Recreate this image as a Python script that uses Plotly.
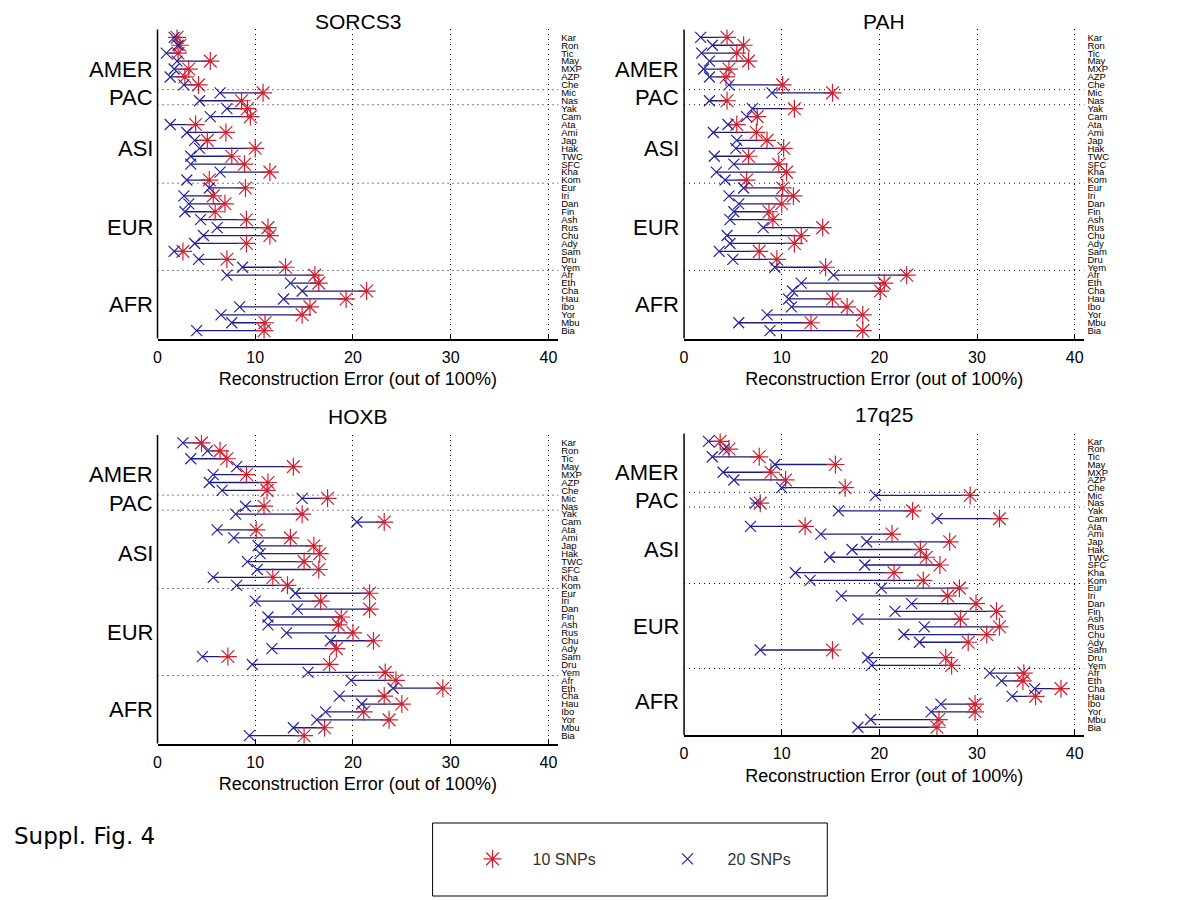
import plotly.graph_objects as go

POPS = ["Kar", "Ron", "Tic", "May", "MXP", "AZP", "Che", "Mic", "Nas", "Yak",
        "Cam", "Ata", "Ami", "Jap", "Hak", "TWC", "SFC", "Kha", "Kom", "Eur",
        "Iri", "Dan", "Fin", "Ash", "Rus", "Chu", "Ady", "Sam", "Dru", "Yem",
        "Afr", "Eth", "Cha", "Hau", "Ibo", "Yor", "Mbu", "Bia"]
GROUPS = ["AMER", "PAC", "ASI", "EUR", "AFR"]
GROUP_POS = [5.0, 8.6, 15.0, 25.0, 34.7]          # row position of group labels
BOUNDARIES = [7.6, 9.5, 19.4, 30.4]               # dotted separators between groups
PANEL_TITLES = ["SORCS3", "PAH", "HOXB", "17q25"]
X_TICKS = [0, 10, 20, 30, 40]

# Reconstruction error (%) with 10 SNPs (red *) and 20 SNPs (blue x)
SORCS3_10 = [2.0, 2.3, 2.1, 5.4, 3.2, 2.8, 4.2, 10.8, 8.6, 9.2, 9.5, 3.9, 7.0, 5.1, 10.0, 7.6, 8.9, 11.5, 5.3,
             9.0, 5.7, 6.9, 5.9, 9.1, 11.3, 11.5, 9.1, 2.6, 7.1, 13.1, 16.1, 16.5, 21.4, 19.3, 15.6, 14.8, 11.0, 10.9]
SORCS3_20 = [1.7, 2.1, 0.9, 2.0, 1.7, 1.3, 2.7, 6.4, 4.3, 7.1, 5.4, 1.3, 3.0, 3.8, 4.3, 3.4, 3.4, 6.4, 3.0,
             5.3, 2.7, 3.2, 2.8, 4.4, 6.1, 4.7, 3.8, 1.7, 4.2, 8.7, 7.1, 13.6, 14.8, 12.9, 8.4, 6.5, 7.6, 4.0]
PAH_10 = [4.4, 6.1, 5.4, 6.6, 4.6, 4.3, 10.1, 15.2, 4.4, 11.3, 7.5, 5.4, 7.4, 8.5, 10.2, 6.6, 9.7, 10.5, 6.4,
          10.1, 11.2, 10.0, 8.7, 9.1, 14.2, 12.0, 11.3, 7.7, 9.5, 14.5, 22.8, 20.5, 20.1, 15.2, 16.7, 18.3, 13.0, 18.3]
PAH_20 = [1.7, 2.9, 1.8, 2.6, 2.0, 2.6, 4.6, 9.0, 2.6, 7.0, 6.4, 4.5, 3.0, 5.4, 5.3, 3.1, 5.1, 3.3, 4.2,
          6.1, 4.6, 5.6, 5.1, 4.7, 8.1, 4.4, 4.7, 3.6, 5.0, 9.3, 15.3, 12.0, 11.1, 10.7, 11.0, 8.5, 5.6, 8.8]
HOXB_10 = [4.5, 6.4, 7.1, 13.9, 9.1, 11.3, 11.2, 17.4, 10.9, 14.8, 23.2, 10.1, 13.6, 16.0, 16.6, 15.0, 16.5, 11.8, 13.3,
           21.7, 16.7, 21.7, 18.8, 18.5, 20.0, 22.1, 18.3, 7.2, 17.6, 23.3, 24.4, 29.2, 23.2, 25.0, 21.1, 23.7, 17.1, 15.0]
HOXB_20 = [2.6, 5.1, 3.4, 8.1, 5.7, 5.3, 6.6, 14.8, 9.0, 8.0, 20.4, 6.1, 7.8, 10.3, 10.5, 9.2, 10.2, 5.7, 8.1,
           14.1, 10.0, 14.3, 11.3, 11.3, 13.2, 17.7, 11.7, 4.6, 9.7, 15.4, 19.8, 24.1, 18.6, 20.9, 17.2, 16.3, 13.9, 9.4]
Q25_10 = [3.7, 4.6, 7.7, 15.5, 8.9, 10.4, 16.5, 29.3, 7.8, 23.4, 32.3, 12.4, 21.3, 27.2, 24.2, 24.8, 26.2, 21.5, 24.5,
          28.2, 27.0, 29.9, 32.0, 28.3, 32.3, 31.0, 29.1, 15.2, 26.8, 27.4, 34.8, 34.7, 38.6, 36.0, 29.8, 29.8, 26.1, 25.9]
Q25_20 = [2.5, 4.1, 2.9, 9.3, 4.0, 5.1, 10.0, 19.6, 7.3, 15.8, 25.9, 6.8, 14.0, 18.7, 17.2, 14.9, 18.5, 11.4, 12.9,
          20.2, 16.1, 23.3, 21.6, 17.8, 24.6, 22.5, 24.1, 7.8, 18.8, 19.2, 31.3, 32.5, 35.9, 33.6, 26.3, 25.3, 19.1, 17.8]

PANELS = [(SORCS3_10, SORCS3_20), (PAH_10, PAH_20), (HOXB_10, HOXB_20), (Q25_10, Q25_20)]

W, H = 1200, 900
DX, DY = 10, 8   # page body margin compensation
# pixel boxes of the four plot areas in the target picture: (left, right, top, bottom)
BOXES = [(156, 558, 29.4, 338.6), (684.3, 1086, 29.4, 338.6),
         (156, 558, 435, 743.6), (684.3, 1086, 433.6, 735)]
TITLE_SHIFT = [8, 8, 19, 19]


def px(x):
    return (x - DX) / W


def py(y):
    return 1 - (y - DY) / H


FONT = "Liberation Sans, Arial, sans-serif"
RED = "#cf2030"
NAVY = "#1a1a80"
BLUE = "#2424a0"
DOTS = "1px,4px"

rows = list(range(1, len(POPS) + 1))
fig = go.Figure()
shapes = []
annotations = []

for i, ((v10, v20), box) in enumerate(zip(PANELS, BOXES)):
    n = "" if i == 0 else str(i + 1)
    xa, ya = "x" + n, "y" + n
    lx, ly = [], []
    for r, a, b in zip(rows, v20, v10):
        lx += [a, b, None]
        ly += [r, r, None]
    fig.add_trace(go.Scatter(x=lx, y=ly, mode="lines", line=dict(color=NAVY, width=1.3),
                             xaxis=xa, yaxis=ya, showlegend=False, hoverinfo="skip"))
    fig.add_trace(go.Scatter(x=v10, y=rows, mode="markers", name="10 SNPs",
                             marker=dict(symbol="asterisk-open", size=15, color=RED,
                                         line=dict(color=RED, width=1.2)),
                             xaxis=xa, yaxis=ya, showlegend=(i == 0), legendrank=1))
    fig.add_trace(go.Scatter(x=v20, y=rows, mode="markers", name="20 SNPs",
                             marker=dict(symbol="x-thin-open", size=11, color=BLUE,
                                         line=dict(color=BLUE, width=1.2)),
                             xaxis=xa, yaxis=ya, showlegend=(i == 0), legendrank=2))

    l, r, t, b = box
    xdom = [px(l), px(r)]
    ydom = [py(b), py(t)]
    fig.update_layout(**{
        ("xaxis" + n): dict(domain=xdom, anchor=ya, range=[0, 41], tickvals=X_TICKS,
                            showline=True, linecolor="black", linewidth=1.5,
                            ticks="inside", ticklen=5, tickcolor="black", tickwidth=1,
                            showgrid=True, gridcolor="black", griddash=DOTS, gridwidth=1,
                            zeroline=False, ticklabelstandoff=3,
                            tickfont=dict(family=FONT, size=16, color="black"),
                            title=dict(text="Reconstruction Error (out of 100%)", standoff=8,
                                       font=dict(family=FONT, size=18, color="black"))),
        ("yaxis" + n): dict(domain=ydom, anchor=xa, range=[39, 0], side="right",
                            tickvals=rows, ticktext=POPS, ticks="", showline=False,
                            showgrid=False, zeroline=False, ticklabelstandoff=2,
                            tickfont=dict(family=FONT, size=9.5, color="black")),
    })
    # left axis line
    shapes.append(dict(type="line", xref=xa + " domain", yref=ya + " domain",
                       x0=0, x1=0, y0=0, y1=1, line=dict(color="black", width=1.5)))
    for yb in BOUNDARIES:
        shapes.append(dict(type="line", xref=xa + " domain", yref=ya, x0=0, x1=1, y0=yb, y1=yb,
                           line=dict(color="black", width=1, dash=DOTS)))
    for g, gp in zip(GROUPS, GROUP_POS):
        annotations.append(dict(text=g, xref=xa + " domain", yref=ya, x=0, y=gp, xanchor="right",
                                yanchor="middle", xshift=-3, showarrow=False,
                                font=dict(family=FONT, size=22, color="black")))
    annotations.append(dict(text=PANEL_TITLES[i], xref=xa + " domain", yref=ya + " domain",
                            x=0.5, y=1, xanchor="center", yanchor="middle", yshift=TITLE_SHIFT[i],
                            showarrow=False, font=dict(family=FONT, size=21, color="black")))

# legend box
shapes.append(dict(type="rect", xref="paper", yref="paper", x0=px(432), x1=px(828),
                   y0=py(896), y1=py(823), line=dict(color="black", width=1)))
annotations.append(dict(text="Suppl. Fig. 4", xref="paper", yref="paper", x=px(10), y=py(836),
                        xanchor="left", yanchor="middle", showarrow=False,
                        font=dict(family="DejaVu Sans, sans-serif", size=23, color="black")))

fig.update_layout(
    width=W, height=H, margin=dict(l=0, r=0, t=0, b=0),
    paper_bgcolor="white", plot_bgcolor="white",
    shapes=shapes, annotations=annotations,
    legend=dict(orientation="h", x=px(452), y=py(859), xanchor="left", yanchor="middle",
                bgcolor="rgba(0,0,0,0)", borderwidth=0, itemwidth=70, entrywidth=110,
                font=dict(family=FONT, size=16, color="#333333")),
)

fig.write_html("out.html")
